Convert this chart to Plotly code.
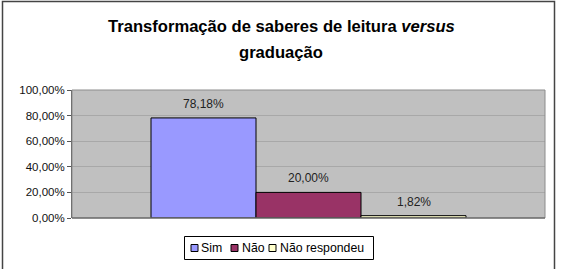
import plotly.graph_objects as go

categories = ["Sim", "Não", "Não respondeu"]
values = [78.18, 20.00, 1.82]
value_labels = ["78,18%", "20,00%", "1,82%"]
colors = ["#9999FF", "#993366", "#FFFFCC"]
tick_vals = [0, 20, 40, 60, 80, 100]
tick_text = ["0,00%", "20,00%", "40,00%", "60,00%", "80,00%", "100,00%"]

FONT = "Liberation Sans, Arial"
# plot area in pixels
PL, PR, PT, PB = 72, 545, 90, 218
W, H = 562, 269


def px(x):
    return (x - PL) / (PR - PL)


def py(y):
    return (PB - y) / (PB - PT)


fig = go.Figure()
for i, (cat, v, c) in enumerate(zip(categories, values, colors)):
    fig.add_trace(go.Bar(
        x=[i], y=[v], name=cat, width=1, showlegend=False,
        marker=dict(color=c, line=dict(color="#000000", width=1)),
        hoverinfo="skip",
    ))
    fig.add_annotation(x=i, y=v, text=value_labels[i], showarrow=False,
                       yshift=14, font=dict(size=12, color="#222222", family=FONT))

half = 2.2524
fig.update_layout(
    width=W, height=H,
    margin=dict(l=PL, r=W - PR, t=PT, b=H - PB),
    paper_bgcolor="white",
    plot_bgcolor="#C0C0C0",
    font=dict(family=FONT, size=11, color="#000000"),
    barmode="overlay",
    showlegend=False,
    xaxis=dict(range=[1 - half, 1 + half], showticklabels=False, showgrid=False,
               zeroline=False, showline=False, ticks=""),
    yaxis=dict(range=[0, 100], tickvals=tick_vals, ticktext=tick_text,
               showgrid=True, gridcolor="#A8A8A8", gridwidth=1, zeroline=False,
               showline=True, linecolor="#555555", ticks="outside", ticklen=4,
               tickcolor="#555555", tickfont=dict(size=11.5, color="#111111")),
)

# title (two lines, custom spacing)
fig.add_annotation(xref="paper", yref="paper", x=px(281), y=py(26.5),
                   text="<b>Transformação de saberes de leitura <i>versus</i></b>",
                   showarrow=False, xanchor="center", yanchor="middle",
                   font=dict(size=16.6, color="#000000", family=FONT))
fig.add_annotation(xref="paper", yref="paper", x=px(281), y=py(52.5),
                   text="<b>graduação</b>",
                   showarrow=False, xanchor="center", yanchor="middle",
                   font=dict(size=16.6, color="#000000", family=FONT))

# plot area border and base line
fig.add_shape(type="rect", xref="paper", yref="paper", x0=0, x1=1, y0=0, y1=1,
              line=dict(color="#8C8C8C", width=1), fillcolor="rgba(0,0,0,0)", layer="above")
fig.add_shape(type="line", xref="paper", yref="paper", x0=0, x1=1, y0=0, y1=0,
              line=dict(color="#555555", width=1))

# outer chart border
fig.add_shape(type="rect", xref="paper", yref="paper",
              x0=px(2.5), x1=px(554.5), y0=py(275), y1=py(1.5),
              line=dict(color="#444444", width=1.5), fillcolor="rgba(0,0,0,0)")

# legend box
fig.add_shape(type="rect", xref="paper", yref="paper",
              x0=px(184.5), x1=px(373.5), y0=py(259.5), y1=py(236.5),
              line=dict(color="#000000", width=1), fillcolor="white")
legend_square_x = [191, 231, 269]
legend_text_x = [199, 240, 278]
for name, c, sx, tx in zip(categories, colors, legend_square_x, legend_text_x):
    fig.add_shape(type="rect", xref="paper", yref="paper",
                  x0=px(sx), x1=px(sx + 7), y0=py(251.5), y1=py(244.5),
                  line=dict(color="#000000", width=1), fillcolor=c)
    fig.add_annotation(xref="paper", yref="paper", x=px(tx), y=py(248),
                       text=name, showarrow=False, xanchor="left", yanchor="middle",
                       font=dict(size=12.3, color="#000000", family=FONT))

fig.write_html("out.html")
